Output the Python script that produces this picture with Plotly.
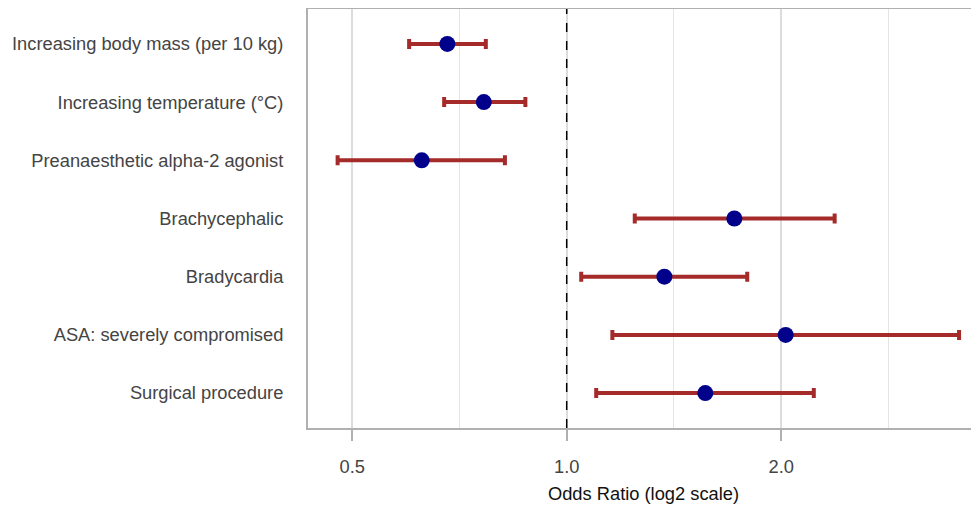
import plotly.graph_objects as go

labels = [
    "Increasing body mass (per 10 kg)",
    "Increasing temperature (°C)",
    "Preanaesthetic alpha-2 agonist",
    "Brachycephalic",
    "Bradycardia",
    "ASA: severely compromised",
    "Surgical procedure",
]
odds_ratio = [0.680, 0.765, 0.626, 1.719, 1.371, 2.029, 1.565]
ci_lower = [0.601, 0.673, 0.477, 1.246, 1.048, 1.159, 1.100]
ci_upper = [0.770, 0.875, 0.819, 2.377, 1.792, 3.553, 2.222]

major_ticks = [0.5, 1.0, 2.0]
major_text = ["0.5", "1.0", "2.0"]
minor_ticks = [2 ** -1.5, 2 ** -0.5, 2 ** 0.5, 2 ** 1.5]

err_plus = [u - o for u, o in zip(ci_upper, odds_ratio)]
err_minus = [o - l for o, l in zip(odds_ratio, ci_lower)]

fig = go.Figure()
fig.add_trace(go.Scatter(
    x=odds_ratio, y=labels, mode="markers",
    marker=dict(color="#00008B", size=16),
    error_x=dict(type="data", symmetric=False, array=err_plus, arrayminus=err_minus,
                 color="#A52A2A", thickness=4, width=5),
    showlegend=False,
))

fig.add_shape(type="line", x0=1, x1=1, xref="x", y0=0, y1=1, yref="y domain",
              line=dict(color="black", width=1.5, dash="dash"))

fig.update_layout(
    width=971, height=496,
    margin=dict(l=300, r=0, t=1, b=76, autoexpand=False),
    plot_bgcolor="white", paper_bgcolor="white",
    font=dict(family="Liberation Sans, Arial, sans-serif", size=18.3, color="#444444"),
)
fig.update_xaxes(
    type="log",
    range=[-1.206 * 0.30103, 1.922 * 0.30103],
    tickmode="array", tickvals=major_ticks, ticktext=major_text,
    ticks="outside", ticklen=11, tickwidth=2, tickcolor="#b0b0b0",
    showgrid=True, gridcolor="#dcdcdc", gridwidth=2,
    minor=dict(tickvals=minor_ticks, showgrid=True, gridcolor="#e4e4e4", gridwidth=1, ticklen=0),
    showline=True, linecolor="#b0b0b0", linewidth=2, mirror=True,
    zeroline=False, ticklabelstandoff=10, automargin=True,
    title=dict(text="Odds Ratio (log2 scale)", font=dict(size=18.3, color="#111111"), standoff=16),
    tickfont=dict(size=18.3, color="#444444"),
)
fig.update_yaxes(
    type="category", categoryorder="array", categoryarray=labels,
    range=[6.6, -0.6],
    showgrid=False, zeroline=False,
    showline=True, linecolor="#b0b0b0", linewidth=2, mirror=False,
    ticks="", ticklabelstandoff=19,
    tickfont=dict(size=18.3, color="#444444"),
)

fig.write_html("out.html")
